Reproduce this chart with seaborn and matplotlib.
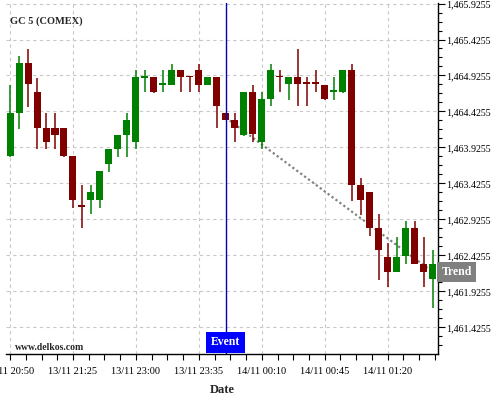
import numpy as np
import pandas as pd
import seaborn as sns
import matplotlib.pyplot as plt
from matplotlib.ticker import FixedLocator, MultipleLocator, FuncFormatter

# OHLC of the 5 minute candles
opens = [1463.80, 1464.40, 1465.10, 1464.69, 1464.19, 1464.19, 1464.19, 1463.80,
         1463.12, 1463.19, 1463.19, 1463.69, 1463.90, 1464.10, 1464.00, 1464.89,
         1464.90, 1464.80, 1464.80, 1465.00, 1464.91, 1465.00, 1464.80, 1464.90,
         1464.40, 1464.30, 1464.10, 1464.69, 1464.00, 1464.60, 1464.91, 1464.81,
         1464.90, 1464.82, 1464.82, 1464.80, 1464.70, 1464.70, 1465.00, 1463.40,
         1463.30, 1462.80, 1462.40, 1462.20, 1462.41, 1462.80, 1462.31, 1462.10]
highs = [1464.80, 1465.19, 1465.29, 1464.89, 1464.40, 1464.40, 1464.19, 1463.80,
         1463.40, 1463.40, 1463.60, 1463.90, 1464.10, 1464.41, 1465.00, 1465.00,
         1464.90, 1465.00, 1465.09, 1465.00, 1464.91, 1465.09, 1464.90, 1464.90,
         1464.40, 1464.40, 1464.69, 1464.80, 1464.69, 1465.09, 1465.00, 1464.90,
         1465.29, 1464.90, 1465.00, 1464.80, 1464.90, 1465.00, 1465.09, 1463.50,
         1463.30, 1463.00, 1462.60, 1462.68, 1462.90, 1462.90, 1462.68, 1462.50]
lows = [1463.79, 1464.18, 1464.49, 1463.90, 1463.90, 1463.90, 1463.79, 1463.09,
        1462.80, 1463.00, 1463.09, 1463.59, 1463.79, 1463.79, 1463.90, 1464.69,
        1464.68, 1464.69, 1464.79, 1464.69, 1464.69, 1464.69, 1464.79, 1464.19,
        1464.30, 1464.00, 1464.08, 1464.00, 1463.91, 1464.50, 1464.69, 1464.59,
        1464.50, 1464.50, 1464.69, 1464.59, 1464.59, 1464.68, 1463.18, 1462.99,
        1462.69, 1462.09, 1461.99, 1462.19, 1462.30, 1462.30, 1461.99, 1461.70]
closes = [1464.40, 1465.10, 1464.81, 1464.19, 1464.00, 1464.10, 1463.80, 1463.19,
          1463.10, 1463.30, 1463.60, 1463.90, 1464.10, 1464.30, 1464.90, 1464.90,
          1464.69, 1464.81, 1465.00, 1464.91, 1464.90, 1464.80, 1464.90, 1464.50,
          1464.30, 1464.19, 1464.69, 1464.11, 1464.60, 1465.00, 1464.90, 1464.90,
          1464.81, 1464.81, 1464.81, 1464.60, 1464.71, 1465.00, 1463.40, 1463.20,
          1462.81, 1462.50, 1462.20, 1462.40, 1462.80, 1462.31, 1462.20, 1462.31]

date_labels = ["13/11 20:50", "13/11 21:25", "13/11 23:00", "13/11 23:35",
               "14/11 00:10", "14/11 00:45", "14/11 01:20"]
event_bar = 24
trend_x = [24, 47.5]
trend_y = [1464.34, 1462.15]
trend_label_value = 1462.19

sns.set_theme(style="white")
plt.rcParams['font.family'] = ['Liberation Serif', 'DejaVu Serif']

df = pd.DataFrame({"open": opens, "high": highs, "low": lows, "close": closes})
df["idx"] = np.arange(len(df))
df["up"] = df["close"] >= df["open"]

up_col = "#008000"
down_col = "#800000"

fig = plt.figure(figsize=(5, 4), dpi=100)
ax = fig.add_axes([0.012, 0.115, 0.864, 0.877])

for _, r in df.iterrows():
    c = up_col if r["up"] else down_col
    ax.vlines(r["idx"], r["low"], r["high"], color=c, lw=1.1, zorder=3)
    lo = min(r["open"], r["close"])
    h = max(abs(r["close"] - r["open"]), 0.022)
    ax.bar(r["idx"], h, bottom=lo, width=0.78, color=c, zorder=3, linewidth=0)

# trend line
sns.lineplot(x=trend_x, y=trend_y, ax=ax, color="#808080", lw=1.6,
             linestyle=(0, (1, 1.2)), zorder=2)

# event line
ax.axvline(event_bar, color="#0000b4", lw=1, zorder=4)

ax.set_xlim(-0.45, 47.6)
ax.set_ylim(1461.055, 1465.93)

ax.xaxis.set_major_locator(FixedLocator(np.arange(0, 43, 7)))
ax.xaxis.set_minor_locator(MultipleLocator(1.75))
ax.set_xticklabels(date_labels)

ax.yaxis.tick_right()
ax.yaxis.set_major_locator(FixedLocator(np.arange(1461.4255, 1466.0, 0.5)))
ax.yaxis.set_minor_locator(FixedLocator(np.arange(1461.0505, 1466.0, 0.125)))
ax.yaxis.set_major_formatter(FuncFormatter(lambda v, p: f"{v:,.4f}"))

ax.tick_params(axis="both", which="both", colors="black",
               direction="out", width=0.8)
ax.tick_params(axis="x", which="major", length=4, pad=5, labelsize=7.5)
ax.tick_params(axis="x", which="minor", length=4)
ax.tick_params(axis="y", which="major", length=5, pad=1, labelsize=7.2)
ax.tick_params(axis="y", which="minor", length=3)
ax.tick_params(axis="x", which="both", bottom=True)
ax.tick_params(axis="y", which="both", right=True, left=False)

ax.grid(True, which="major", color="#c8c8c8", lw=0.8, linestyle=(0, (3, 3)))
ax.set_axisbelow(True)

for s in ["top", "left"]:
    ax.spines[s].set_visible(False)
for s in ["right", "bottom"]:
    ax.spines[s].set_color("black")
    ax.spines[s].set_linewidth(1)

ax.set_xlabel("Date", fontsize=9, fontweight="bold", labelpad=6)
ax.set_ylabel("")

ax.text(0.009, 0.948, "GC 5 (COMEX)", transform=ax.transAxes, fontsize=7.5,
        fontweight="bold", va="center", ha="left")
ax.text(0.021, 0.018, "www.delkos.com", transform=ax.transAxes, fontsize=7,
        fontweight="bold", va="center", ha="left")

ax.annotate("Event", xy=(event_bar, 0), xycoords=("data", "axes fraction"),
            xytext=(0, 4), textcoords="offset points",
            ha="center", va="bottom", color="white", fontsize=8.5, fontweight="bold",
            bbox=dict(boxstyle="square,pad=0.4", fc="#0000ff", ec="none"), zorder=5)
ax.annotate("Trend", xy=(1.0, trend_label_value), xycoords=("axes fraction", "data"),
            xytext=(2.5, 0), textcoords="offset points",
            ha="left", va="center", color="white", fontsize=8.5, fontweight="bold",
            bbox=dict(boxstyle="square,pad=0.35", fc="#808080", ec="none"),
            annotation_clip=False, zorder=5)

fig.savefig("out.png", dpi=100, facecolor="white")
